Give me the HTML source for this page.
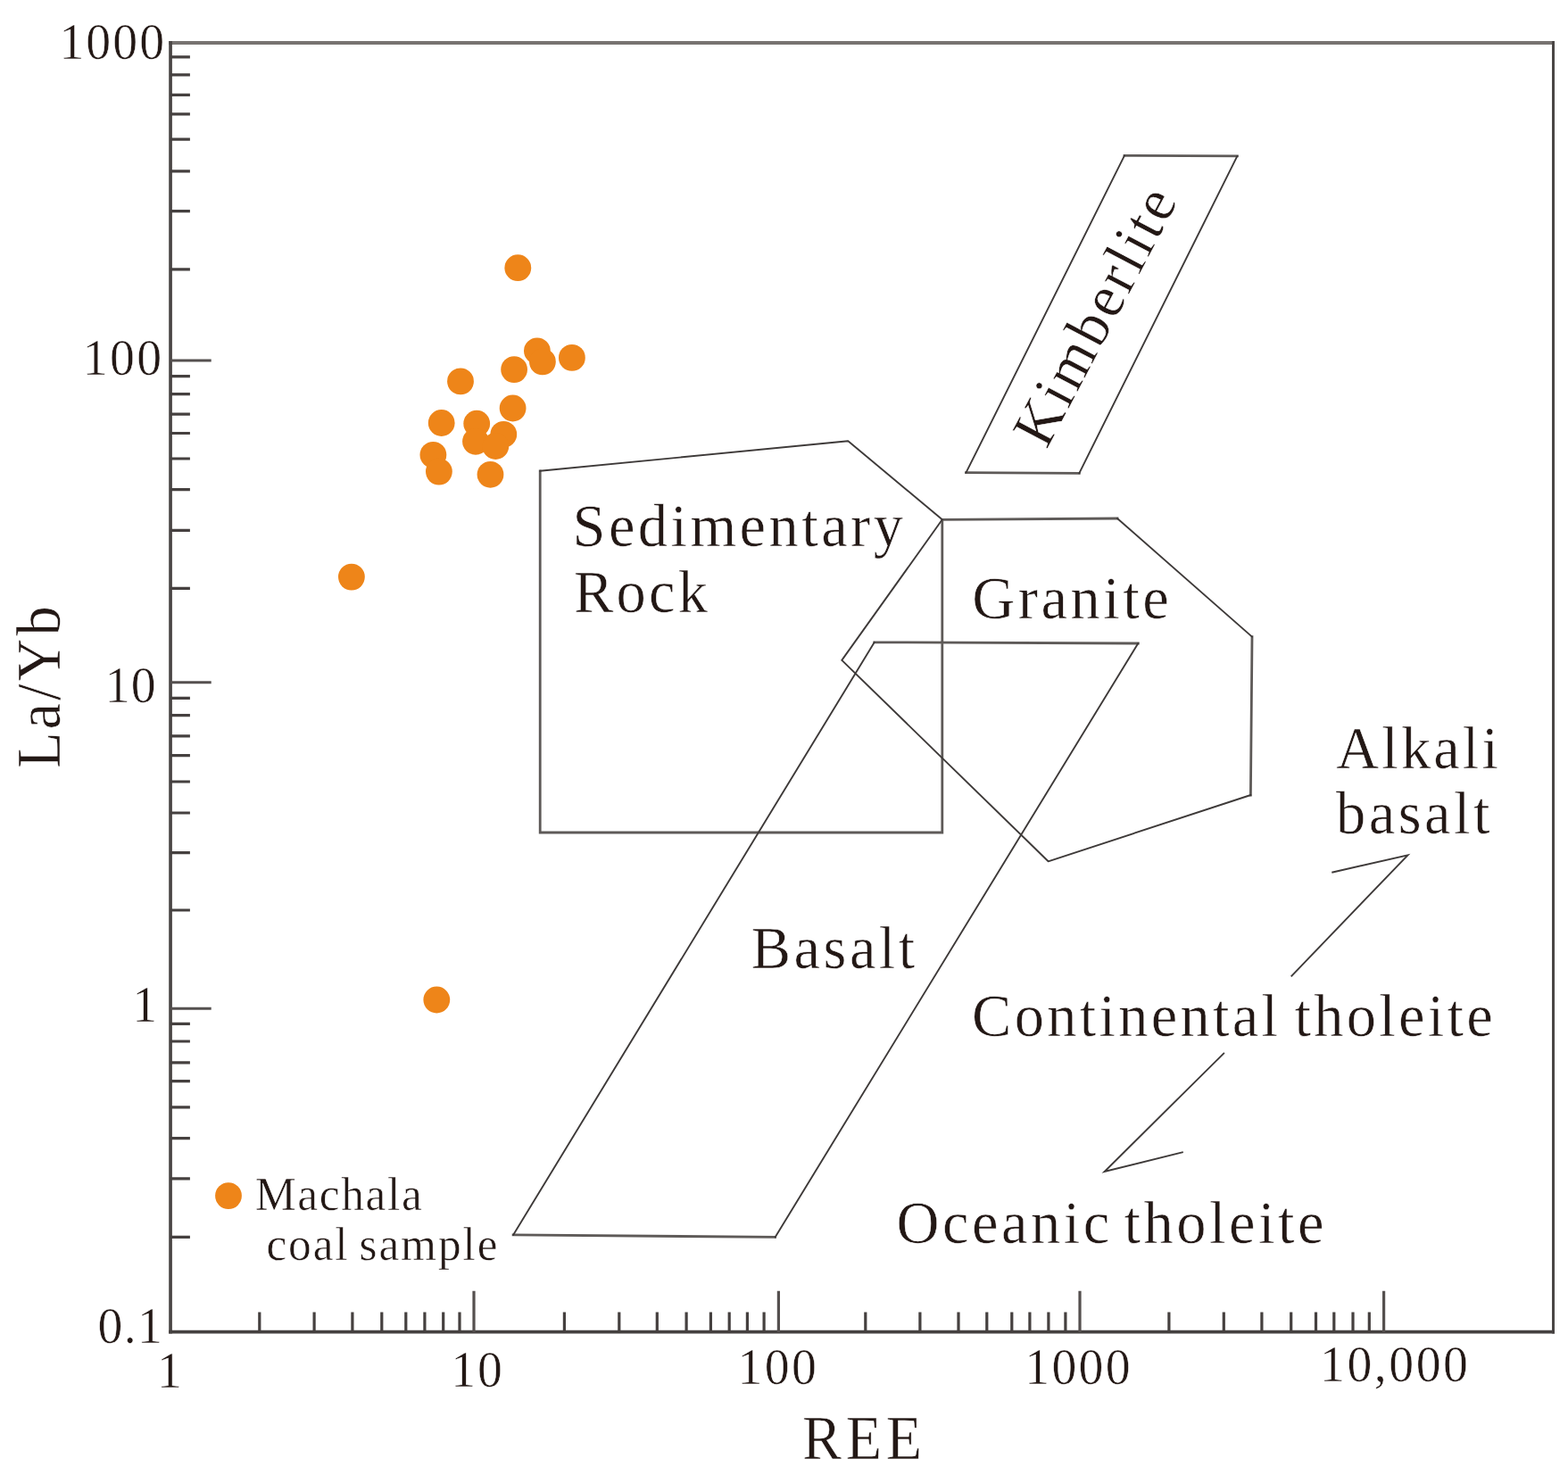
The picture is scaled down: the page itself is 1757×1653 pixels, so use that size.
<!DOCTYPE html>
<html lang="en">
<head>
<meta charset="utf-8">
<title>La/Yb vs REE discrimination diagram</title>
<style>
html,body{margin:0;padding:0;background:#fff;}
body{width:1757px;height:1653px;overflow:hidden;}
svg{display:block;}
text{font-family:"Liberation Serif", serif;fill:#231815;white-space:pre;stroke:#fff;stroke-width:0.5px;paint-order:fill stroke;}
</style>
</head>
<body>
<svg width="1757" height="1653" viewBox="0 0 1757 1653" role="img" aria-label="La/Yb versus REE discrimination diagram">
<rect width="1757" height="1653" fill="#fff"/>
<g fill="none" stroke-linecap="butt">
<line x1="189.2" y1="48.00" x2="1742.0" y2="48.00" stroke="#777371" stroke-width="4"/>
<line x1="1740.50" y1="46.0" x2="1740.50" y2="1494.6" stroke="#4a4645" stroke-width="3"/>
<line x1="191.05" y1="46.0" x2="191.05" y2="1494.6" stroke="#4a4645" stroke-width="3.7"/>
<line x1="189.2" y1="1492.70" x2="1742.0" y2="1492.70" stroke="#454140" stroke-width="3.8"/>
<path d="M190.8 63.8H212.9M190.8 83.9H212.9M190.8 106.4H212.9M190.8 127.9H212.9M190.8 156.1H212.9M190.8 191.9H212.9M190.8 236.6H212.9M190.8 301.9H212.9M190.8 421.6H212.9M190.8 441.7H212.9M190.8 464.2H212.9M190.8 485.5H212.9M190.8 514.0H212.9M190.8 548.6H212.9M190.8 594.4H212.9M190.8 659.4H212.9M190.8 782.3H212.9M190.8 801.6H212.9M190.8 824.9H212.9M190.8 846.7H212.9M190.8 876.0H212.9M190.8 911.0H212.9M190.8 955.6H212.9M190.8 1020.0H212.9M190.8 1147.3H212.9M190.8 1167.0H212.9M190.8 1190.8H212.9M190.8 1211.6H212.9M190.8 1240.9H212.9M190.8 1275.7H212.9M190.8 1320.8H212.9M190.8 1386.4H212.9" stroke="#45403f" stroke-width="3.2"/>
<path d="M190.8 403.9H236.7M190.8 764.8H236.7M190.8 1130.2H236.7" stroke="#55504f" stroke-width="3"/>
<path d="M290.8 1493.0V1470.6M352.1 1493.0V1470.6M394.9 1493.0V1470.6M427.8 1493.0V1470.6M454.8 1493.0V1470.6M475.9 1493.0V1470.6M496.7 1493.0V1470.6M515.0 1493.0V1470.6M632.4 1493.0V1470.6M693.8 1493.0V1470.6M736.3 1493.0V1470.6M769.1 1493.0V1470.6M796.4 1493.0V1470.6M817.2 1493.0V1470.6M837.4 1493.0V1470.6M856.1 1493.0V1470.6M969.8 1493.0V1470.6M1030.9 1493.0V1470.6M1074.0 1493.0V1470.6M1105.8 1493.0V1470.6M1133.8 1493.0V1470.6M1153.9 1493.0V1470.6M1174.9 1493.0V1470.6M1193.9 1493.0V1470.6M1309.9 1493.0V1470.6M1371.3 1493.0V1470.6M1413.9 1493.0V1470.6M1446.7 1493.0V1470.6M1474.5 1493.0V1470.6M1494.8 1493.0V1470.6M1516.0 1493.0V1470.6M1534.3 1493.0V1470.6" stroke="#45403f" stroke-width="3.2"/>
<path d="M531.0 1493.0V1446.7M872.4 1493.0V1446.7M1210.0 1493.0V1446.7M1550.6 1493.0V1446.7" stroke="#55504f" stroke-width="3.2"/>
<path d="M1055.8 582.3L1055.8 933.0M1055.8 933.0L605.2 933.0M605.2 933.0L605.2 527.8M1055.8 582.3L1252.0 581.0M1403.0 713.6L1401.4 891.0M979.8 719.8L1275.3 721.0M868.6 1386.4L575.1 1383.9M1260.0 174.4L1386.4 174.9M1209.3 530.3L1082.5 529.7" stroke="#5e5a58" stroke-width="2.8" stroke-linecap="square"/>
<path d="M605.2 527.8L950.3 494.2M950.3 494.2L1055.8 582.3M1252.0 581.0L1403.0 713.6M1401.4 891.0L1174.6 965.3M1174.6 965.3L943.3 739.9M943.3 739.9L1055.8 582.3M1275.3 721.0L868.6 1386.4M575.1 1383.9L979.8 719.8M1386.4 174.9L1209.3 530.3M1082.5 529.7L1260.0 174.4" stroke="#3e3a39" stroke-width="1.9" stroke-linecap="round"/>
<polyline points="1492.3,977.8 1577.5,958.3 1446.7,1094.3" stroke="#3e3a39" stroke-width="1.9" stroke-linejoin="miter"/>
<polyline points="1371.9,1179.9 1237.6,1313.0 1325.8,1291.2" stroke="#3e3a39" stroke-width="1.9" stroke-linejoin="miter"/>
</g>
<g fill="#ee8519">
<circle cx="580.3" cy="300.2" r="14.9"/>
<circle cx="601.9" cy="393.3" r="14.9"/>
<circle cx="607.9" cy="405.4" r="14.9"/>
<circle cx="640.9" cy="400.9" r="14.9"/>
<circle cx="576.1" cy="414.1" r="14.9"/>
<circle cx="516.0" cy="427.4" r="14.9"/>
<circle cx="574.6" cy="457.5" r="14.9"/>
<circle cx="494.7" cy="474.0" r="14.9"/>
<circle cx="534.2" cy="474.7" r="14.9"/>
<circle cx="533.0" cy="494.8" r="14.9"/>
<circle cx="564.3" cy="486.8" r="14.9"/>
<circle cx="555.3" cy="500.0" r="14.9"/>
<circle cx="485.4" cy="509.8" r="14.9"/>
<circle cx="491.9" cy="528.6" r="14.9"/>
<circle cx="549.5" cy="531.8" r="14.9"/>
<circle cx="393.9" cy="646.6" r="14.9"/>
<circle cx="489.3" cy="1120.5" r="14.9"/>
<circle cx="256.0" cy="1340.1" r="14.9"/>
</g>
<text transform="translate(66.45 66.30) scale(0.970 1)" font-size="57.5" letter-spacing="2.08">1000</text>
<text transform="translate(92.85 420.40) scale(0.970 1)" font-size="57.5" letter-spacing="2.41">100</text>
<text transform="translate(117.85 786.60) scale(0.970 1)" font-size="57.5" letter-spacing="1.16">10</text>
<text transform="translate(148.37 1145.30) scale(0.970 1)" font-size="57.5" letter-spacing="0.00">1</text>
<text transform="translate(109.46 1504.50) scale(0.970 1)" font-size="57.5" letter-spacing="1.40">0.1</text>
<text transform="translate(175.91 1554.50) scale(0.970 1)" font-size="57.5" letter-spacing="0.00">1</text>
<text transform="translate(505.35 1554.00) scale(0.970 1)" font-size="57.5" letter-spacing="1.89">10</text>
<text transform="translate(826.45 1551.00) scale(0.970 1)" font-size="57.5" letter-spacing="2.46">100</text>
<text transform="translate(1148.25 1551.00) scale(0.970 1)" font-size="57.5" letter-spacing="2.32">1000</text>
<text transform="translate(1479.05 1547.90) scale(0.970 1)" font-size="57.5" letter-spacing="2.60">10,000</text>
<text transform="translate(899.00 1635.40) scale(0.950 1)" font-size="69.5" letter-spacing="4.89">REE</text>
<text transform="translate(641.46 612.40) scale(0.985 1)" font-size="67.5" letter-spacing="3.50">Sedimentary</text>
<text transform="translate(642.93 686.40) scale(0.985 1)" font-size="67.5" letter-spacing="3.29">Rock</text>
<text transform="translate(1089.23 693.30) scale(0.985 1)" font-size="67.5" letter-spacing="3.60">Granite</text>
<text transform="translate(841.73 1084.50) scale(0.985 1)" font-size="67.5" letter-spacing="3.53">Basalt</text>
<text transform="translate(1497.20 860.90) scale(0.985 1)" font-size="67.5" letter-spacing="3.15">Alkali</text>
<text transform="translate(1497.00 934.00) scale(0.985 1)" font-size="67.5" letter-spacing="3.52">basalt</text>
<text transform="translate(1089.11 1160.50) scale(0.985 1)" font-size="67.5" letter-spacing="3.33"><tspan x="0.00">Continental</tspan> <tspan x="366.91">tholeite</tspan></text>
<text transform="translate(1004.42 1393.00) scale(0.985 1)" font-size="67.5" letter-spacing="3.57"><tspan x="0.00">Oceanic</tspan> <tspan x="258.88">tholeite</tspan></text>
<text transform="translate(285.94 1356.00) scale(0.960 1)" font-size="53.5" letter-spacing="1.74">Machala</text>
<text transform="translate(298.41 1412.00) scale(0.960 1)" font-size="53.5" letter-spacing="1.97"><tspan x="0.00">coal</tspan> <tspan x="108.48">sample</tspan></text>
<text transform="translate(67.1 861.0) rotate(-90) scale(0.95 1)" font-size="70" letter-spacing="3.10">La/Yb</text>
<text transform="translate(1172.8 504.5) rotate(-62.2) scale(0.985 1)" font-size="67.5" letter-spacing="3.15">Kimberlite</text>
</svg>
</body>
</html>
